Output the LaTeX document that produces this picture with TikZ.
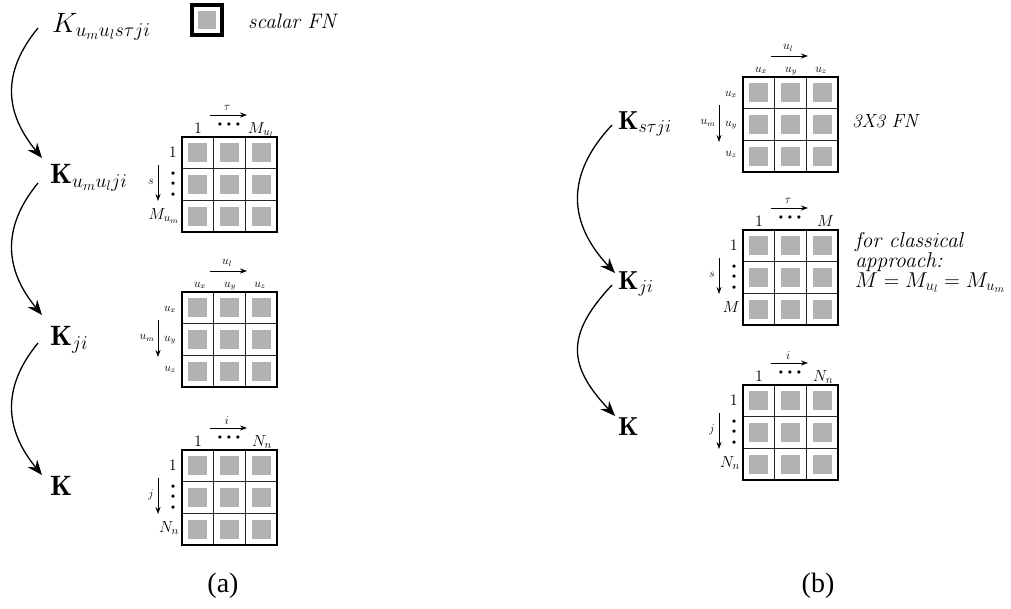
\RequirePackage{fix-cm}
\documentclass[tikz,border=0pt]{standalone}
\usepackage{fontspec}
\newfontfamily\capfont{Liberation Serif}
\usetikzlibrary{arrows.meta}
\newcommand\myfs[1]{\fontsize{#1}{#1}\selectfont}
\newcommand\cmit{\fontencoding{OT1}\fontfamily{cmr}\fontseries{m}\fontshape{it}\selectfont}
\newcommand\tridots{$\mathord{\bullet}\mkern10mu\mathord{\bullet}\mkern10mu\mathord{\bullet}$}
\newcommand\tridotsv{$\mathord{\bullet}\mkern13mu\mathord{\bullet}\mkern13mu\mathord{\bullet}$}
\tikzset{
  cellgray/.style={fill=black!30},
  bigtxt/.style={inner sep=0pt,font=\myfs{28}},
  bigtxtb/.style={inner sep=0pt,font=\myfs{26}},
  midtxt/.style={inner sep=0pt,font=\myfs{16}},
  smalltxt/.style={inner sep=0pt,font=\myfs{12}},
  hdotsty/.style={inner sep=0pt,font=\myfs{8}},
  vdotsty/.style={inner sep=0pt,font=\myfs{8},rotate=-90},
  itxt/.style={inner sep=0pt,font=\cmit\myfs{21}},
  captxt/.style={inner sep=0pt,font=\capfont\myfs{28}},
  bigarr/.style={line width=1.3pt,-{Stealth[length=15pt,width=12pt,inset=5pt]}},
  idxarr/.style={line width=0.8pt,-{Stealth[length=7pt,width=5pt]}},
  outerline/.style={line width=2.6pt},
  innerline/.style={line width=1.1pt,black!85},
  fnbox/.pic={
    \foreach \cx in {0,1,2}{
      \foreach \cy in {0,1,2}{
        \fill[cellgray] ({\cx*31.667+6.33},{\cy*31.667+6.33}) rectangle ++(19,19);
      }
    }
    \draw[innerline] (31.667,0) -- (31.667,95);
    \draw[innerline] (63.333,0) -- (63.333,95);
    \draw[innerline] (0,31.667) -- (95,31.667);
    \draw[innerline] (0,63.333) -- (95,63.333);
    \draw[outerline] (0,0) rectangle (95,95);
  },
}
\begin{document}
\begin{tikzpicture}[x=1pt,y=-1pt]
\useasboundingbox[fill=white] (0,0) rectangle (1011,608);
% legend
\draw[line width=3.2pt] (192,5) rectangle (222,35);
\fill[cellgray] (198,11) rectangle (216,29);
\node[itxt,anchor=base west] (legend) at (248,28) {scalar FN};
% panel (a) labels
\node[bigtxt,anchor=base west] (ka1) at (52,32) {$K_{u_m u_l s\tau ji}$};
\node[bigtxt,anchor=base west] (ka2) at (50,183) {$\mathbf{K}_{u_m u_l ji}$};
\node[bigtxt,anchor=base west] (ka3) at (50,345) {$\mathbf{K}_{ji}$};
\node[bigtxt,anchor=base west] (ka4) at (50,495) {$\mathbf{K}$};
\draw[bigarr] ([shift={(-14,-4)}]ka1.base west) .. controls +(-37,45) and +(-37,-45) .. ([shift={(-8,-25)}]ka2.base west);
\draw[bigarr] ([shift={(-12,0)}]ka2.base west) .. controls +(-37,45) and +(-37,-45) .. ([shift={(-8,-30)}]ka3.base west);
\draw[bigarr] ([shift={(-12,-2)}]ka3.base west) .. controls +(-37,45) and +(-37,-45) .. ([shift={(-8,-20)}]ka4.base west);

% ---------- grid a1 ----------
\begin{scope}[shift={(182,137)}]
  \pic {fnbox};
  \node[midtxt,anchor=base] (a1t1) at (16,-4) {$1$};
  \node[hdotsty] (a1td) at (47,-12) {\tridots};
  \node[midtxt,anchor=base west] (a1tn) at (66,-4) {$M_{u_l}$};
  \draw[idxarr] (28,-22) -- (65,-22);
  \node[smalltxt] (a1ta) at (45,-29) {$\tau$};
  \node[midtxt,anchor=base east] (a1l1) at (-5,20) {$1$};
  \node[vdotsty] (a1ld) at (-9,47) {\tridotsv};
  \node[midtxt,anchor=base east] (a1ln) at (-3,82) {$M_{u_m}$};
  \draw[idxarr] (-24,28) -- (-24,64);
  \node[smalltxt] (a1la) at (-31,45) {$s$};
\end{scope}
% ---------- grid a2 ----------
\begin{scope}[shift={(182,292)}]
  \pic {fnbox};
  \node[smalltxt,anchor=base] (a2tx) at (18,-5) {$u_x$};
  \node[smalltxt,anchor=base] (a2ty) at (48,-5) {$u_y$};
  \node[smalltxt,anchor=base] (a2tz) at (78,-5) {$u_z$};
  \draw[idxarr] (28,-21) -- (65,-21);
  \node[smalltxt] (a2ta) at (45,-29) {$u_l$};
  \node[smalltxt,anchor=base] (a2lx) at (-12,19) {$u_x$};
  \node[smalltxt,anchor=base] (a2ly) at (-12,49) {$u_y$};
  \node[smalltxt,anchor=base] (a2lz) at (-12,79) {$u_z$};
  \draw[idxarr] (-24,28) -- (-24,65);
  \node[smalltxt] (a2la) at (-35,46) {$u_m$};
\end{scope}
% ---------- grid a3 ----------
\begin{scope}[shift={(182,450)}]
  \pic {fnbox};
  \node[midtxt,anchor=base] (a3t1) at (16,-4) {$1$};
  \node[hdotsty] (a3td) at (47,-12) {\tridots};
  \node[midtxt,anchor=base west] (a3tn) at (70,-4) {$N_n$};
  \draw[idxarr] (28,-22) -- (65,-22);
  \node[smalltxt] (a3ta) at (45,-29) {$i$};
  \node[midtxt,anchor=base east] (a3l1) at (-5,20) {$1$};
  \node[vdotsty] (a3ld) at (-9,47) {\tridotsv};
  \node[midtxt,anchor=base east] (a3ln) at (-3,82) {$N_n$};
  \draw[idxarr] (-24,28) -- (-24,64);
  \node[smalltxt] (a3la) at (-31,45) {$j$};
\end{scope}
\node[captxt] (capa) at (223,586) {(a)};

% panel (b) labels
\node[bigtxtb,anchor=base west] (kb1) at (618,129) {$\mathbf{K}_{s\tau ji}$};
\node[bigtxtb,anchor=base west] (kb2) at (618,289) {$\mathbf{K}_{ji}$};
\node[bigtxtb,anchor=base west] (kb3) at (618,435) {$\mathbf{K}$};
\draw[bigarr] ([shift={(-6,-4)}]kb1.base west) .. controls +(-47,50) and +(-47,-50) .. ([shift={(-3,-16)}]kb2.base west);
\draw[bigarr] ([shift={(-6,-4)}]kb2.base west) .. controls +(-47,50) and +(-47,-50) .. ([shift={(-3,-19)}]kb3.base west);

% ---------- grid b1 ----------
\begin{scope}[shift={(743,77)}]
  \pic {fnbox};
  \node[smalltxt,anchor=base] (b1tx) at (18,-5) {$u_x$};
  \node[smalltxt,anchor=base] (b1ty) at (48,-5) {$u_y$};
  \node[smalltxt,anchor=base] (b1tz) at (78,-5) {$u_z$};
  \draw[idxarr] (28,-21) -- (65,-21);
  \node[smalltxt] (b1ta) at (45,-29) {$u_l$};
  \node[smalltxt,anchor=base] (b1lx) at (-12,19) {$u_x$};
  \node[smalltxt,anchor=base] (b1ly) at (-12,49) {$u_y$};
  \node[smalltxt,anchor=base] (b1lz) at (-12,79) {$u_z$};
  \draw[idxarr] (-24,28) -- (-24,65);
  \node[smalltxt] (b1la) at (-35,46) {$u_m$};
\end{scope}
\node[inner sep=0pt,anchor=base west,font=\cmit\myfs{19}] (fn3) at (852,127) {3X3 FN};
% ---------- grid b2 ----------
\begin{scope}[shift={(743,230)}]
  \pic {fnbox};
  \node[midtxt,anchor=base] (b2t1) at (16,-4) {$1$};
  \node[hdotsty] (b2td) at (47,-12) {\tridots};
  \node[midtxt,anchor=base west] (b2tn) at (74,-4) {$M$};
  \draw[idxarr] (28,-22) -- (65,-22);
  \node[smalltxt] (b2ta) at (45,-29) {$\tau$};
  \node[midtxt,anchor=base east] (b2l1) at (-5,20) {$1$};
  \node[vdotsty] (b2ld) at (-9,47) {\tridotsv};
  \node[midtxt,anchor=base east] (b2ln) at (-3,82) {$M$};
  \draw[idxarr] (-24,28) -- (-24,64);
  \node[smalltxt] (b2la) at (-31,45) {$s$};
\end{scope}
\node[inner sep=0pt,anchor=base west,align=left,font=\cmit\fontsize{21.5}{17.5}\selectfont] (classic) at (855,287)
  {for classical\\approach:\\$M=M_{u_l}=M_{u_m}$};
% ---------- grid b3 ----------
\begin{scope}[shift={(743,385)}]
  \pic {fnbox};
  \node[midtxt,anchor=base] (b3t1) at (16,-4) {$1$};
  \node[hdotsty] (b3td) at (47,-12) {\tridots};
  \node[midtxt,anchor=base west] (b3tn) at (70,-4) {$N_n$};
  \draw[idxarr] (28,-22) -- (65,-22);
  \node[smalltxt] (b3ta) at (45,-29) {$i$};
  \node[midtxt,anchor=base east] (b3l1) at (-5,20) {$1$};
  \node[vdotsty] (b3ld) at (-9,47) {\tridotsv};
  \node[midtxt,anchor=base east] (b3ln) at (-3,82) {$N_n$};
  \draw[idxarr] (-24,28) -- (-24,64);
  \node[smalltxt] (b3la) at (-31,45) {$j$};
\end{scope}
\node[captxt] (capb) at (818,586) {(b)};
\end{tikzpicture}
\end{document}
